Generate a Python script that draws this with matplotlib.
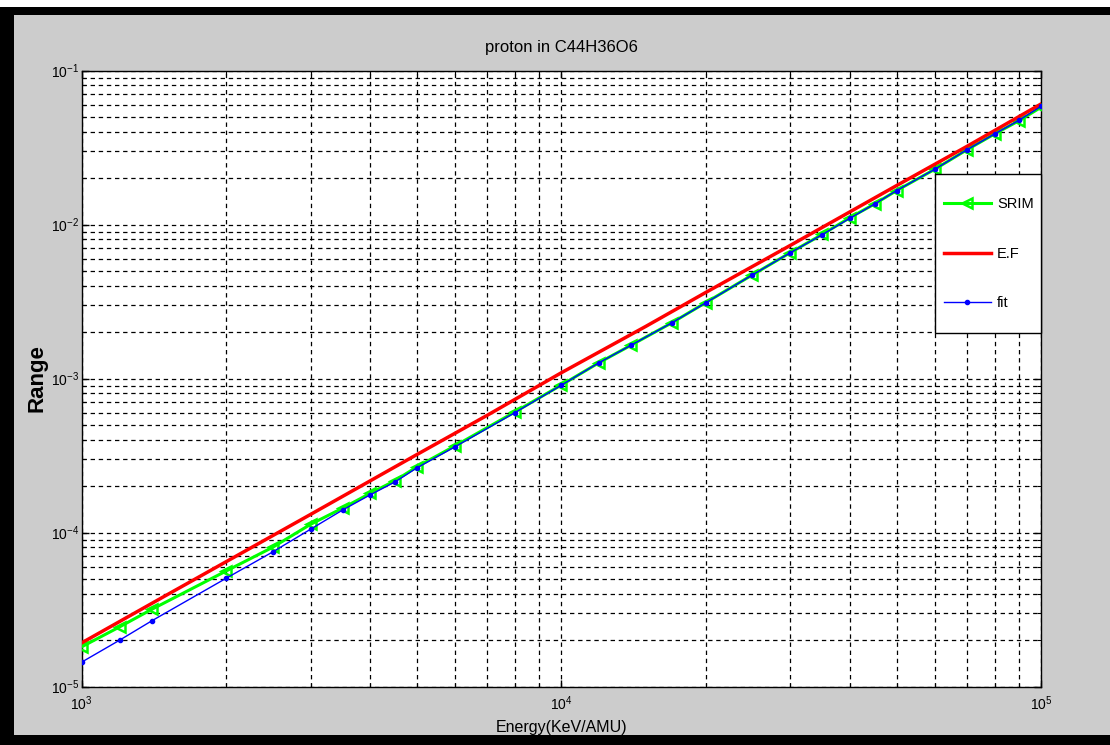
import matplotlib
matplotlib.use("Agg")
import matplotlib.pyplot as plt
from matplotlib.patches import Rectangle
from matplotlib.ticker import LogLocator, NullFormatter

plt.rcParams['font.family'] = ['Liberation Sans', 'DejaVu Sans']
plt.rcParams['mathtext.fontset'] = 'custom'
plt.rcParams['mathtext.rm'] = 'Liberation Sans'
plt.rcParams['mathtext.it'] = 'Liberation Sans'
plt.rcParams['mathtext.bf'] = 'Liberation Sans:bold'

# Proton energies (keV/AMU) and projected ranges
energy = [1000, 1200, 1400, 2000, 2500, 3000, 3500, 4000, 4500, 5000, 6000,
          8000, 10000, 12000, 14000, 17000, 20000, 25000, 30000, 35000,
          40000, 45000, 50000, 60000, 70000, 80000, 90000, 100000]
srim = [1.81e-5, 2.44e-5, 3.17e-5, 5.62e-5, 8.01e-5, 1.13e-4, 1.44e-4,
        1.80e-4, 2.17e-4, 2.67e-4, 3.65e-4, 6.06e-4, 9.07e-4, 1.27e-3,
        1.65e-3, 2.30e-3, 3.11e-3, 4.70e-3, 6.56e-3, 8.63e-3, 1.11e-2,
        1.36e-2, 1.66e-2, 2.28e-2, 3.05e-2, 3.87e-2, 4.72e-2, 5.77e-2]
fit = [1.44e-5, 2.00e-5, 2.67e-5, 5.04e-5, 7.47e-5, 1.05e-4, 1.40e-4,
       1.76e-4, 2.13e-4, 2.63e-4, 3.60e-4, 6.00e-4, 9.05e-4, 1.27e-3,
       1.65e-3, 2.30e-3, 3.10e-3, 4.70e-3, 6.55e-3, 8.60e-3, 1.10e-2,
       1.36e-2, 1.66e-2, 2.28e-2, 3.05e-2, 3.87e-2, 4.75e-2, 5.85e-2]

ef_energy = [1000, 1500, 2000, 3000, 5000, 7000, 10000, 15000, 20000,
             30000, 50000, 70000, 100000]
ef = [1.92e-5, 3.91e-5, 6.46e-5, 1.31e-4, 3.21e-4, 5.76e-4, 1.09e-3,
      2.18e-3, 3.62e-3, 7.31e-3, 1.79e-2, 3.21e-2, 6.06e-2]

W, H = 1110, 745
fig = plt.figure(figsize=(W / 100, H / 100), dpi=100)
fig.patch.set_facecolor('white')

# window frame: grey client area inside a black border
fig.add_artist(Rectangle((0, 0), 1, 1 - 7 / H, transform=fig.transFigure,
                         facecolor='black', edgecolor='none', zorder=-3))
fig.add_artist(Rectangle((14 / W, 10 / H), 1, 1 - 15 / H - 10 / H,
                         transform=fig.transFigure, facecolor='#cccccc',
                         edgecolor='none', zorder=-2))

left, right, top, bottom = 81.7, 1041, 70.5, 686.5
ax = fig.add_axes([left / W, 1 - bottom / H, (right - left) / W,
                   (bottom - top) / H])
ax.set_facecolor('white')

ax.plot(energy, srim, color='#00ff00', lw=2.2, marker='<', ms=7.5,
        mfc='none', mec='#00ff00', mew=1.8, label='SRIM', zorder=3)
ax.plot(ef_energy, ef, color='#ff0000', lw=2.5, label='E.F', zorder=3)
ax.plot(energy, fit, color='#0000ff', lw=1.0, marker='.', ms=6,
        label='fit', zorder=3)

ax.set_xscale('log')
ax.set_yscale('log')
ax.set_xlim(1e3, 1e5)
ax.set_ylim(1e-5, 1e-1)

ax.xaxis.set_major_locator(LogLocator(base=10, numticks=10))
ax.yaxis.set_major_locator(LogLocator(base=10, numticks=10))
ax.xaxis.set_minor_locator(LogLocator(base=10, subs=range(2, 10), numticks=20))
ax.yaxis.set_minor_locator(LogLocator(base=10, subs=range(2, 10), numticks=20))
ax.xaxis.set_minor_formatter(NullFormatter())
ax.yaxis.set_minor_formatter(NullFormatter())

grid_style = dict(color='black', linestyle=(0, (3.5, 3)), linewidth=0.9)
ax.grid(True, which='major', **grid_style)
ax.grid(True, which='minor', **grid_style)

ax.tick_params(which='both', direction='in', top=True, right=True,
               colors='black', labelsize=10)
ax.tick_params(which='major', length=5, width=1)
ax.tick_params(axis='y', which='major', pad=2)
ax.tick_params(axis='x', which='major', pad=6)
ax.tick_params(which='minor', length=3, width=0.8)
for s in ax.spines.values():
    s.set_linewidth(1.0)
    s.set_color('black')

ax.set_title('proton in C44H36O6', fontsize=12, pad=13)
ax.set_xlabel('Energy(KeV/AMU)', fontsize=11.5, labelpad=5)
ax.set_ylabel('Range', fontsize=16, fontweight='bold', labelpad=2)

# legend box
lx0 = (935 - left) / (right - left)
ly0 = (bottom - 333) / (bottom - top)
ly1 = (bottom - 174) / (bottom - top)
ax.add_patch(Rectangle((lx0, ly0), 1 - lx0, ly1 - ly0, transform=ax.transAxes,
                       facecolor='white', edgecolor='black', lw=1.0,
                       zorder=4, clip_on=False))
hx = (944 - left) / (right - left)
hy = (bottom - 197) / (bottom - top)
leg = ax.legend(loc='upper left', bbox_to_anchor=(hx, hy), frameon=False,
                fontsize=10.5, handlelength=3.2, handletextpad=0.45,
                labelspacing=2.45, borderpad=0, borderaxespad=0, numpoints=1)
leg.set_zorder(5)

fig.savefig('out.png', dpi=100, facecolor=fig.get_facecolor())
